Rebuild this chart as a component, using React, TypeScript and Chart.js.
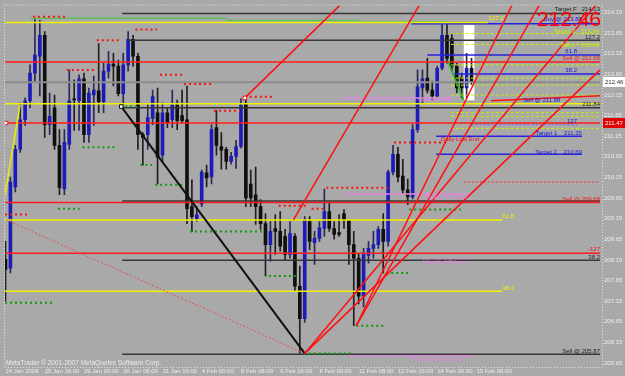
import { useEffect, useRef } from "react";
import { Chart, registerables } from "chart.js";

Chart.register(...registerables);

// ---------- axis labels ----------
const dateLabels = ["24 Jan 2008", "25 Jan 16:00", "29 Jan 00:00", "30 Jan 08:00", "31 Jan 16:00", "4 Feb 00:00", "5 Feb 08:00", "6 Feb 16:00", "8 Feb 00:00", "11 Feb 08:00", "12 Feb 16:00", "14 Feb 00:00", "15 Feb 08:00"];
const dateTickIndex = [0, 8, 16, 24, 32, 40, 48, 56, 64, 72, 80, 88, 96];
const priceTicks = [205.65, 206.15, 206.65, 207.15, 207.65, 208.15, 208.65, 209.15, 209.65, 210.15, 210.65, 211.15, 211.65, 212.15, 212.65, 213.15, 213.65, 214.15];

// ---------- H4 candles ----------
const opens = [208.16, 207.95, 209.92, 210.83, 211.55, 212.01, 212.68, 213.09, 213.60, 211.43,
  211.84, 210.93, 209.87, 210.95, 212.06, 212.01, 212.54, 211.19, 212.15, 212.25,
  211.99, 212.73, 212.90, 212.85, 212.18, 212.88, 213.50, 213.09, 211.19, 211.19,
  211.58, 211.72, 210.69, 211.72, 211.55, 211.91, 211.65, 211.55, 209.44, 209.15,
  209.51, 210.26, 210.16, 211.36, 210.90, 210.83, 210.54, 210.66, 210.90, 211.94,
  209.99, 209.73, 209.44, 209.03, 208.52, 208.91, 208.84, 208.72, 208.28, 208.72,
  207.51, 206.72, 209.08, 208.57, 208.67, 208.91, 209.32, 208.91, 208.81, 209.27,
  209.10, 208.52, 208.19, 207.27, 208.26, 208.43, 208.52, 208.89, 208.60, 210.28,
  210.71, 210.18, 209.85, 209.68, 211.31, 212.32, 212.56, 212.27, 212.13, 212.80,
  213.60, 213.52, 212.85, 212.56, 212.32, 212.80];
const highs = [208.60, 210.16, 210.93, 211.96, 212.08, 212.88, 214.01, 213.96, 213.69, 212.20,
  212.15, 211.31, 211.31, 212.76, 212.52, 212.64, 212.68, 212.32, 212.61, 213.40,
  212.92, 213.21, 213.16, 213.00, 213.16, 213.69, 213.60, 213.16, 211.24, 211.91,
  212.27, 212.32, 211.96, 211.84, 212.27, 212.03, 212.27, 212.37, 210.09, 209.44,
  210.33, 210.45, 211.43, 211.77, 211.24, 210.88, 210.76, 211.05, 212.06, 212.03,
  210.33, 210.40, 209.61, 209.27, 209.08, 209.25, 209.32, 208.89, 209.08, 208.79,
  208.00, 209.20, 209.20, 208.84, 209.08, 209.87, 209.56, 209.08, 209.25, 209.37,
  209.12, 208.84, 208.31, 208.43, 208.60, 208.84, 208.96, 209.27, 210.33, 210.93,
  210.88, 210.59, 210.11, 211.43, 212.76, 212.76, 213.04, 212.49, 212.85, 213.89,
  213.89, 213.64, 212.92, 212.68, 213.16, 213.04];
const lows = [207.15, 207.83, 209.80, 210.76, 211.41, 211.84, 212.49, 212.13, 211.12, 211.19,
  210.83, 209.73, 209.73, 210.83, 211.29, 211.29, 211.00, 211.00, 211.41, 211.72,
  211.72, 212.56, 212.37, 212.13, 211.91, 212.73, 212.85, 210.83, 210.45, 210.83,
  211.43, 209.99, 210.52, 211.36, 211.36, 211.31, 211.48, 209.03, 208.84, 209.08,
  209.44, 209.92, 209.99, 210.69, 210.35, 210.35, 210.47, 210.37, 210.86, 209.44,
  209.44, 209.01, 208.89, 207.76, 208.12, 208.28, 208.36, 208.16, 208.19, 207.39,
  205.88, 206.63, 208.40, 208.04, 208.60, 208.72, 208.84, 208.65, 208.72, 208.91,
  208.04, 206.55, 207.08, 207.01, 208.07, 208.19, 208.43, 207.83, 208.48, 210.21,
  210.04, 209.75, 209.49, 209.63, 211.24, 211.96, 212.20, 212.03, 212.08, 212.76,
  212.92, 212.73, 212.20, 212.08, 212.08, 212.40];
const closes = [207.92, 210.04, 210.83, 211.55, 212.01, 212.68, 213.12, 213.60, 211.43, 211.63,
  210.93, 209.90, 211.00, 212.01, 212.03, 212.54, 211.19, 212.20, 212.27, 211.99,
  212.73, 212.90, 212.85, 212.18, 212.88, 213.50, 213.09, 211.19, 211.12, 211.60,
  212.11, 210.64, 211.72, 211.48, 211.91, 211.53, 211.53, 209.39, 209.20, 209.25,
  210.28, 210.14, 211.31, 210.93, 210.81, 210.54, 210.66, 210.90, 211.91, 209.65,
  209.65, 209.44, 209.03, 208.52, 208.84, 208.84, 208.48, 208.28, 208.79, 207.51,
  206.72, 209.12, 208.60, 208.67, 208.93, 209.32, 208.91, 208.77, 208.77, 209.10,
  208.52, 208.19, 207.27, 208.28, 208.43, 208.52, 208.89, 208.60, 210.28, 210.71,
  210.16, 209.85, 209.68, 211.31, 212.35, 212.54, 212.27, 212.13, 212.80, 213.60,
  213.04, 212.85, 212.32, 212.32, 212.80, 212.46];

const currentPrice = 212.46;
const alertPrice = 211.47;
const rangeBox = [94.5, 212.03, 213.84]; // bar index, low, high

// ---------- horizontal levels: [price, fromBar, toBar] ----------
const redLevels = [[212.95, -0.5, 121.2], [211.47, -0.5, 121.2], [209.54, -0.5, 121.2], [208.31, -0.5, 121.2]];
const darkLevels = [[214.13, 23.8, 121.2], [213.48, 25, 121.2], [211.84, 23.8, 121.2], [209.58, 23.8, 121.2], [208.14, 23.8, 121.2], [205.86, 23.8, 121.2]];
const yellowLevels = [[213.91, -0.5, 98.3], [211.94, -0.5, 121.2], [209.12, -0.5, 101.3], [207.39, -0.5, 101.3]];
const blueLevels = [[213.88, 82.7, 121.2], [213.12, 86, 121.2], [212.66, 91.4, 121.2], [211.15, 87.8, 117.5], [210.71, 87.8, 117.5]];
const greenLevels = [[214.01, 5, 45], [213.96, 45, 72], [213.93, 72, 90]];
const pinkLevels = [[212.08, 68.9, 91], [209.75, 68.9, 94.8], [208.16, 85, 94.8], [205.83, 69.5, 95.8]];
const limeLevels = [[213.64, 90.8, 121.2], [213.38, 90.8, 121.2], [212.88, 90.8, 121.2], [212.56, 90.8, 121.2], [212.39, 90.8, 121.2], [212.15, 90.8, 121.2], [211.72, 90.8, 121.2], [211.63, 90.8, 121.2], [211.34, 90.8, 121.2]];
const blueDottedLevels = [[211.43, 95, 116.5]];
const redDashedLevels = [[210.04, 93.4, 121.2]];

// fractal dot rows
const redDots = [[214.05, 5.6, 12.1], [213.74, 26.5, 30.9], [213.48, 18.6, 23.4], [212.76, 12.5, 18.0], [212.64, 31.5, 36.0], [212.42, 36.4, 42.1], [212.11, 48.8, 54.9], [211.77, 42.5, 47.8], [209.90, 65.4, 78.6], [211.00, 79.2, 89.8], [209.46, 55.7, 61.8], [209.39, 62.4, 64.8], [209.25, -0.1, 5.0]];
const greenDots = [[211.87, 24.4, 27.3], [210.88, 15.7, 22.8], [210.45, 27.5, 29.9], [209.97, 30.5, 36.6], [209.39, 10.7, 15.1], [208.84, 37.6, 52.8], [207.11, -0.1, 10.0], [207.76, 53.7, 59.7], [205.88, 60.8, 70.9], [206.55, 71.5, 77.0], [207.83, 77.6, 82.1], [209.37, 82.3, 92.8]];

// trend lines: [fromBar, fromPrice, toBar, toPrice]
const redTrends = [[48.8, 212.08, 68.1, 214.32], [58.7, 209.12, 84.3, 214.32], [61.0, 205.88, 121.2, 212.76], [61.0, 205.88, 120.6, 214.37], [71.5, 206.55, 103.4, 214.37], [71.5, 206.55, 109.0, 214.37], [99.0, 212.01, 121.2, 212.13]];
const blackTrend = [23.6, 211.87, 61.0, 205.88];
const yellowTrend = [-0.1, 209.73, 2.95, 211.91];
const redDottedTrend = [0.1, 209.12, 61.0, 205.88];
const greenTrend = [90.2, 212.97, 93.4, 212.03];
const anchorsBlack = [[23.6, 211.87]];
const anchorsRed = [[48.8, 212.08], [0.1, 211.47]];

// text notes: [bar, price, text, color, align]
const notes: [number, number, string, string, CanvasTextAlign][] = [
  [121.2, 214.22, "Target F   214.13", "#202020", "right"],
  [98.5, 214.01, "127.2", "#f0f000", "left"],
  [117.5, 213.98, "Buy @ 213.88", "#1818d0", "right"],
  [121.0, 213.69, "Target 2   213.64", "#c0f000", "right"],
  [121.2, 213.55, "127.2", "#202020", "right"],
  [121.0, 213.36, "Sell 1   213.40", "#c0f000", "right"],
  [116.5, 213.21, "61.8", "#1818d0", "right"],
  [121.2, 213.03, "Sell @ 212.95", "#ff1010", "right"],
  [116.5, 212.76, "38.2", "#1818d0", "right"],
  [113.1, 212.01, "Sell @ 211.88", "#1818d0", "right"],
  [121.2, 211.93, "211.84", "#202020", "right"],
  [116.5, 211.50, "127", "#1818d0", "right"],
  [117.5, 211.22, "Target 1    211.35", "#1818d0", "right"],
  [117.5, 210.76, "Target 2    210.69", "#1818d0", "right"],
  [88.8, 211.07, "Daily Low End", "#ff1010", "left"],
  [84.1, 212.03, "Weekly High", "#e080e0", "left"],
  [85.3, 209.66, "Weekly 1/2 High", "#e080e0", "left"],
  [121.2, 209.63, "Sell @ 209.68", "#ff1010", "right"],
  [101.3, 209.21, "61.8", "#f0f000", "left"],
  [121.2, 208.40, "-127", "#ff1010", "right"],
  [85.1, 208.10, "Weekly 1/2 Low", "#e080e0", "left"],
  [121.2, 208.21, "38.2", "#202020", "right"],
  [101.3, 207.47, "38.2", "#f0f000", "left"],
  [121.2, 205.93, "Sell @ 205.87", "#202020", "right"],
  [82.7, 205.74, "Previous Week Low", "#e080e0", "left"],
];

// ---------- dataset helpers ----------
const seg = (pts: number[][], color: string, width: number, dash: number[] = [], order = 3) => ({
  type: "line" as const,
  data: pts.map(([x, y]) => ({ x, y })),
  borderColor: color,
  borderWidth: width,
  borderDash: dash,
  borderCapStyle: "butt" as const,
  pointRadius: 0,
  fill: false,
  tension: 0,
  order,
});
const levels = (rows: number[][], color: string, width: number, dash: number[] = [], order = 3) =>
  rows.map(([p, a, b]) => seg([[a, p], [b, p]], color, width, dash, order));
const trend = (r: number[], color: string, width: number, dash: number[] = [], order = 1) =>
  seg([[r[0], r[1]], [r[2], r[3]]], color, width, dash, order);

const bull = closes.map((c, i) => c >= opens[i]);

const overlay = {
  id: "overlay",
  afterDatasetsDraw(chart: any) {
    const { ctx, chartArea, scales } = chart;
    const x = scales.x, y = scales.y;
    ctx.save();
    ctx.setLineDash([1, 2]);
    ctx.strokeStyle = "#e6e6e6";
    ctx.lineWidth = 1;
    ctx.strokeRect(chartArea.left - 0.5, chartArea.top - 0.5, chartArea.right - chartArea.left + 1, chartArea.bottom - chartArea.top + 1);
    ctx.setLineDash([]);
    ctx.font = '6px "Liberation Sans"';
    ctx.textBaseline = "middle";
    for (const [bx, p, t, c, al] of notes) {
      ctx.fillStyle = c;
      ctx.textAlign = al;
      ctx.fillText(t, x.getPixelForValue(bx), y.getPixelForValue(p));
    }
    ctx.textAlign = "left";
    ctx.fillStyle = "#ececec";
    ctx.font = '6.5px "Liberation Sans"';
    ctx.fillText("MetaTrader © 2001-2007 MetaQuotes Software Corp.", chartArea.left + 1, chartArea.bottom - 4);
    ctx.font = '21px "Liberation Sans"';
    ctx.fillStyle = "#ff0000";
    ctx.textAlign = "right";
    ctx.fillText(currentPrice.toFixed(2), chartArea.right - 1, y.getPixelForValue(213.96));
    ctx.restore();
  },
  afterDraw(chart: any) {
    const { ctx, chartArea, scales } = chart;
    const y = scales.y;
    ctx.save();
    ctx.font = '6px "Liberation Sans"';
    ctx.textBaseline = "middle";
    ctx.textAlign = "left";
    const box = (v: number, bg: string, fg: string) => {
      const py = Math.round(y.getPixelForValue(v));
      ctx.fillStyle = bg;
      ctx.fillRect(chartArea.right + 1, py - 5, 22, 10);
      ctx.fillStyle = fg;
      ctx.fillText(v.toFixed(2), chartArea.right + 3, py);
    };
    box(currentPrice, "#ffffff", "#303030");
    box(alertPrice, "#e00000", "#ffffff");
    ctx.restore();
  },
};

export default function App() {
  const ref = useRef<HTMLCanvasElement>(null);
  useEffect(() => {
    const datasets: any[] = [
      {
        type: "bar",
        data: opens.map((o, i) => ({ x: i, y: [o, closes[i]] })),
        backgroundColor: bull.map((b) => (b ? "#1c1cb8" : "#101010")),
        barThickness: 3,
        minBarLength: 1,
        grouped: false,
        order: 5,
      },
      {
        type: "bar",
        data: lows.map((l, i) => ({ x: i, y: [l, highs[i]] })),
        backgroundColor: bull.map((b) => (b ? "#2a2a5a" : "#202020")),
        barThickness: 1,
        grouped: false,
        order: 6,
      },
      {
        type: "bar",
        data: [{ x: rangeBox[0], y: [rangeBox[1], rangeBox[2]] }],
        backgroundColor: "#ffffff",
        barThickness: 10,
        grouped: false,
        order: 10,
      },
      seg([[-0.5, currentPrice], [121.2, currentPrice]], "#8c8c8c", 2, [], 4),
      ...levels(redLevels, "#ff1c1c", 1.5),
      ...levels(darkLevels, "#363636", 1.5),
      ...levels(yellowLevels, "#f2f200", 1.5),
      ...levels(blueLevels, "#2424e0", 1.5),
      ...levels(greenLevels, "#5cc05c", 1.5),
      ...levels(pinkLevels, "#e088e0", 1.5),
      ...levels(limeLevels, "#c4f000", 1, [3, 2]),
      ...levels(blueDottedLevels, "#6060ff", 1, [2, 2]),
      ...levels(redDashedLevels, "#ff3030", 1, [2, 2]),
      ...levels(redDots, "#ff1010", 2, [2, 3], 2),
      ...levels(greenDots, "#0c9c0c", 2, [2, 3], 2),
      ...redTrends.map((r) => trend(r, "#ff1010", 1.5)),
      trend(blackTrend, "#101010", 2),
      trend(yellowTrend, "#e8f000", 1.5),
      trend(redDottedTrend, "#e25050", 1, [2, 2]),
      trend(greenTrend, "#10c010", 1.5),
      {
        type: "line",
        data: anchorsBlack.map(([x, y]) => ({ x, y })),
        showLine: false,
        pointStyle: "rect",
        pointRadius: 2.5,
        pointBackgroundColor: "#ffffff",
        pointBorderColor: "#101010",
        pointBorderWidth: 1,
        order: 0,
      },
      {
        type: "line",
        data: anchorsRed.map(([x, y]) => ({ x, y })),
        showLine: false,
        pointStyle: "rect",
        pointRadius: 2.5,
        pointBackgroundColor: "#ffffff",
        pointBorderColor: "#ff1010",
        pointBorderWidth: 1,
        order: 0,
      },
    ];

    const chart = new Chart(ref.current!, {
      type: "bar",
      data: { datasets },
      options: {
        responsive: false,
        animation: false,
        devicePixelRatio: 1,
        events: [],
        layout: { padding: { top: 2, left: 2, right: 0, bottom: 0 } },
        plugins: { legend: { display: false }, tooltip: { enabled: false } },
        scales: {
          x: {
            type: "linear",
            min: -0.1,
            max: 121.6,
            offset: false,
            grid: { display: false, drawTicks: false },
            border: { display: false },
            afterFit: (s: any) => { s.height = 9; },
            afterBuildTicks: (s: any) => { s.ticks = dateTickIndex.map((v) => ({ value: v })); },
            ticks: {
              autoSkip: false,
              maxRotation: 0,
              align: "start",
              padding: 1,
              color: "#eeeeee",
              font: { family: "Liberation Sans", size: 6 },
              callback: (_v: any, i: number) => dateLabels[i],
            },
          },
          y: {
            type: "linear",
            position: "right",
            min: 205.55,
            max: 214.32,
            grid: { display: false, drawTicks: false },
            border: { display: false },
            afterFit: (s: any) => { s.width = 23; },
            afterBuildTicks: (s: any) => { s.ticks = priceTicks.map((v) => ({ value: v })); },
            ticks: {
              padding: 2,
              color: "#eeeeee",
              font: { family: "Liberation Sans", size: 6 },
              callback: (v: any) => Number(v).toFixed(2),
            },
          },
        },
      },
      plugins: [overlay],
    } as any);
    return () => chart.destroy();
  }, []);

  return (
    <div style={{ position: "fixed", left: 0, top: 0, width: 625, height: 376, background: "#a9a9a9" }}>
      <canvas ref={ref} width={625} height={376} style={{ display: "block" }} />
    </div>
  );
}
